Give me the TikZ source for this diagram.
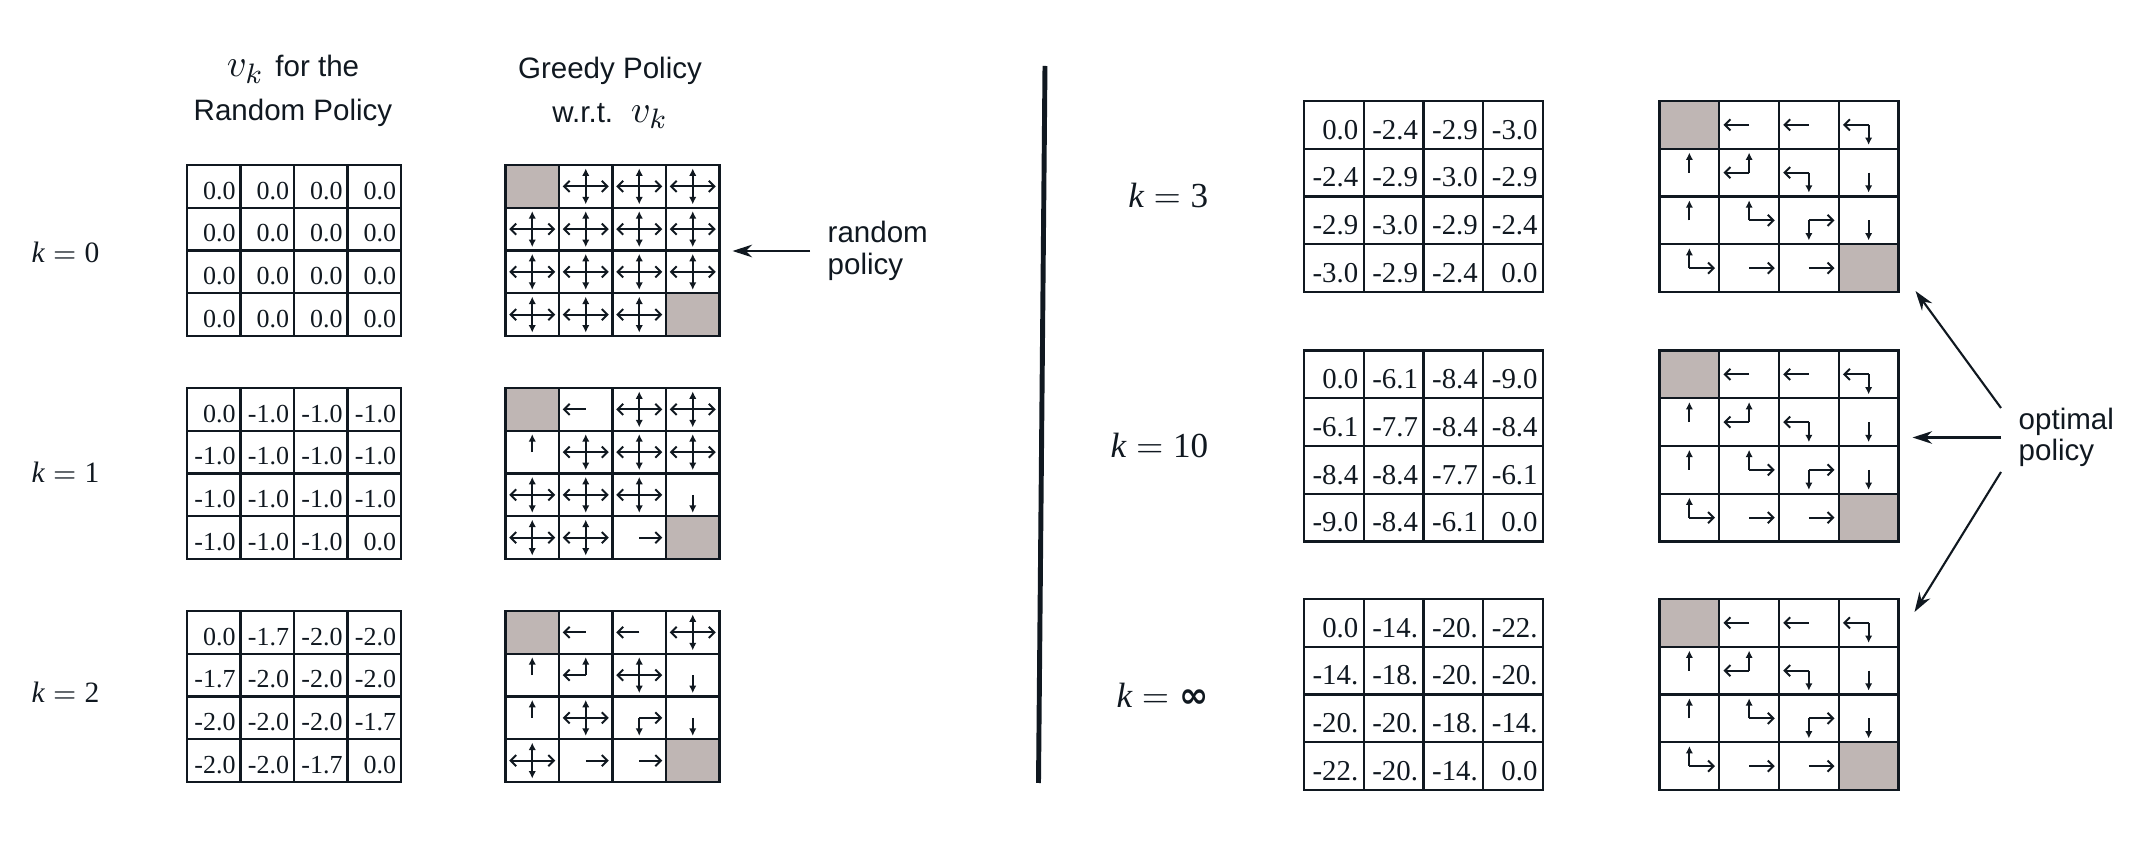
\documentclass[tikz,border=0pt]{standalone}
\usepackage{fontspec}
\setmainfont{Liberation Serif}
\setsansfont{Liberation Sans}
\newfontfamily\inffont{DejaVu Sans}
\usetikzlibrary{arrows.meta}

\definecolor{ink}{RGB}{16,24,32}
\definecolor{termgray}{RGB}{191,182,180}

\tikzset{
  gridline/.style={ink,line width=0.7pt,line cap=rect},
  term/.style={fill=termgray},
  act v/.style={ink,line width=0.55pt,-{Latex[length=2.1pt,width=2.1pt]}},
  act h/.style={ink,line width=0.55pt,-{Straight Barb[length=1.6pt,width=3.2pt]}},
  val/.style={anchor=base east,inner sep=0pt,text=ink},
  left grid/.style={x=5.35mm,y=-4.275mm,val/.append style={font=\fontsize{7.4}{8}\selectfont}},
  right grid/.style={x=5.975mm,y=-4.775mm,val/.append style={font=\fontsize{8.2}{9}\selectfont}},
  left box/.style={minimum width=21.4mm,minimum height=17.1mm,inner sep=0pt,outer sep=0pt},
  right box/.style={minimum width=23.9mm,minimum height=19.1mm,inner sep=0pt,outer sep=0pt},
  hdr/.style={font=\sffamily\fontsize{8.4}{12.4}\selectfont,align=center,text=ink},
  note/.style={font=\sffamily\fontsize{8.4}{9}\selectfont,align=left,inner sep=1.7mm,text=ink,anchor=west},
  klab/.style={anchor=east,inner sep=0pt,text=ink,font=\fontsize{8.4}{9}\selectfont},
  klab big/.style={klab,font=\fontsize{10}{11}\selectfont},
  conn/.style={ink,line width=0.6pt}
}

\newcommand{\actN}{\draw[act v] (\cc+0.5,\rr+0.5) -- ++(0,-0.42);}
\newcommand{\actS}{\draw[act v] (\cc+0.5,\rr+0.5) -- ++(0,0.42);}
\newcommand{\actE}{\draw[act h] (\cc+0.5,\rr+0.5) -- ++(0.43,0);}
\newcommand{\actW}{\draw[act h] (\cc+0.5,\rr+0.5) -- ++(-0.43,0);}

\newcommand{\gridlines}{%
  \foreach \gl in {0,...,4} {
    \draw[gridline] (\gl,0) -- (\gl,4);
    \draw[gridline] (0,\gl) -- (4,\gl);
  }}

\newcommand{\valgrid}[3]{%
  \begin{scope}[shift={(#1.north west)},#2]
    \foreach \row [count=\rr from 0] in {#3} {
      \foreach \cv [count=\cc from 0] in \row {
        \node[val] (#1-\rr-\cc) at (\cc+0.92,\rr+0.8) {\cv};
      }
    }
    \gridlines
  \end{scope}}

\newcommand{\polgrid}[3]{%
  \begin{scope}[shift={(#1.north west)},#2]
    \foreach \row [count=\rr from 0] in {#3} {
      \foreach \cell [count=\cc from 0] in \row {
        \foreach \dd in \cell {
          \if\dd t\fill[term] (\cc,\rr) rectangle ++(1,1);\fi
          \if\dd x\actN\actS\actE\actW\fi
          \if\dd n\actN\fi
          \if\dd s\actS\fi
          \if\dd e\actE\fi
          \if\dd w\actW\fi
        }
      }
    }
    \gridlines
  \end{scope}}

\begin{document}
\begin{tikzpicture}[>={Stealth[length=5.6pt,width=3.6pt]}]
\useasboundingbox (0,0) rectangle (21.52,8.63);

\node[hdr] (hv) at (2.93,7.72) {{\fontsize{11}{12}\selectfont$v_k$}\hspace{0.4em}for the\\Random Policy};
\node[hdr] (hg) at (6.10,7.70) {Greedy Policy\\w.r.t.\hspace{0.6em}{\fontsize{11}{12}\selectfont$v_k$}};

\node[klab] (k0) at (1.00,6.11) {$\textit{k}=\mbox{0}$};
\node[klab] (k1) at (1.00,3.91) {$\textit{k}=\mbox{1}$};
\node[klab] (k2) at (1.00,1.71) {$\textit{k}=\mbox{2}$};
\node[klab big] (k3) at (12.09,6.68) {$\textit{k}=\mbox{3}$};
\node[klab big] (k10) at (12.09,4.18) {$\textit{k}=\mbox{10}$};
\node[klab big] (kinf) at (12.09,1.68) {$\textit{k}=\mbox{\inffont\bfseries ∞}$};

\node[left box] (v0) at (2.94,6.125) {};
\node[left box] (v1) at (2.94,3.895) {};
\node[left box] (v2) at (2.94,1.665) {};
\node[left box] (p0) at (6.125,6.125) {};
\node[left box] (p1) at (6.125,3.895) {};
\node[left box] (p2) at (6.125,1.665) {};
\node[right box] (v3) at (14.235,6.665) {};
\node[right box] (v10) at (14.235,4.17) {};
\node[right box] (vinf) at (14.235,1.685) {};
\node[right box] (p3) at (17.79,6.665) {};
\node[right box] (p10) at (17.79,4.17) {};
\node[right box] (pinf) at (17.79,1.685) {};

\valgrid{v0}{left grid}{{0.0,0.0,0.0,0.0},{0.0,0.0,0.0,0.0},{0.0,0.0,0.0,0.0},{0.0,0.0,0.0,0.0}}
\valgrid{v1}{left grid}{{0.0,-1.0,-1.0,-1.0},{-1.0,-1.0,-1.0,-1.0},{-1.0,-1.0,-1.0,-1.0},{-1.0,-1.0,-1.0,0.0}}
\valgrid{v2}{left grid}{{0.0,-1.7,-2.0,-2.0},{-1.7,-2.0,-2.0,-2.0},{-2.0,-2.0,-2.0,-1.7},{-2.0,-2.0,-1.7,0.0}}
\valgrid{v3}{right grid}{{0.0,-2.4,-2.9,-3.0},{-2.4,-2.9,-3.0,-2.9},{-2.9,-3.0,-2.9,-2.4},{-3.0,-2.9,-2.4,0.0}}
\valgrid{v10}{right grid}{{0.0,-6.1,-8.4,-9.0},{-6.1,-7.7,-8.4,-8.4},{-8.4,-8.4,-7.7,-6.1},{-9.0,-8.4,-6.1,0.0}}
\valgrid{vinf}{right grid}{{0.0,-14.,-20.,-22.},{-14.,-18.,-20.,-20.},{-20.,-20.,-18.,-14.},{-22.,-20.,-14.,0.0}}

\polgrid{p0}{left grid}{{t,x,x,x},{x,x,x,x},{x,x,x,x},{x,x,x,t}}
\polgrid{p1}{left grid}{{t,w,x,x},{n,x,x,x},{x,x,x,s},{x,x,e,t}}
\polgrid{p2}{left grid}{{t,w,w,x},{n,{n,w},x,s},{n,x,{s,e},s},{x,e,e,t}}
\polgrid{p3}{right grid}{{t,w,w,{s,w}},{n,{n,w},{s,w},s},{n,{n,e},{s,e},s},{{n,e},e,e,t}}
\polgrid{p10}{right grid}{{t,w,w,{s,w}},{n,{n,w},{s,w},s},{n,{n,e},{s,e},s},{{n,e},e,e,t}}
\polgrid{pinf}{right grid}{{t,w,w,{s,w}},{n,{n,w},{s,w},s},{n,{n,e},{s,e},s},{{n,e},e,e,t}}

\draw[ink,line width=1.4pt] (10.45,7.97) -- (10.385,0.80);

\node[note] (rnd) at (8.10,6.12) {random\\policy};
\node[note] (opt) at (20.01,4.255) {optimal\\policy};

\draw[conn,->,shorten >=1.3mm] (rnd.west) -- (rnd.west -| p0.east);
\draw[conn,->] ([yshift=2.95mm]opt.west) -- ([shift={(1.7mm,0.1mm)}]p3.south east);
\draw[conn,->,shorten >=1.4mm] (opt.west) -- (opt.west -| p10.east);
\draw[conn,->] ([yshift=-3.45mm]opt.west) -- ([shift={(1.6mm,-1.3mm)}]pinf.north east);
\end{tikzpicture}
\end{document}
